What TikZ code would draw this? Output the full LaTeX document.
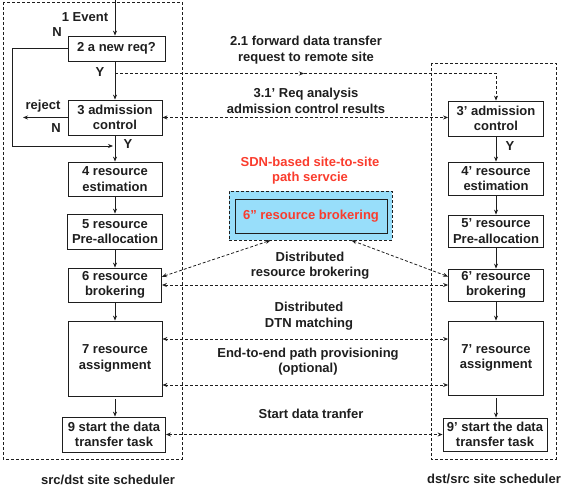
\documentclass[tikz,border=0pt]{standalone}
\usepackage{fontspec}
\setmainfont{Liberation Sans}
\usetikzlibrary{arrows.meta,calc}
\definecolor{sdnred}{RGB}{250,60,45}
\definecolor{sdnblue}{RGB}{152,222,250}
\definecolor{ink}{RGB}{30,30,30}
\begin{document}
\begin{tikzpicture}[x=1pt,y=-1pt,
  font=\fontsize{13}{15.6}\selectfont\bfseries,
  box/.style={draw=ink, line width=0.8pt, align=center, inner sep=0pt, text=ink},
  bsz/.style 2 args={minimum width=#1pt, minimum height=#2pt},
  flow/.style={draw=ink, line width=0.8pt, -{Stealth[length=5pt,width=4pt]}},
  msg/.style={draw=ink, line width=0.8pt, dash pattern=on 3pt off 2pt, -{Stealth[length=5pt,width=4pt]}},
  msgb/.style={draw=ink, line width=0.8pt, dash pattern=on 3pt off 2pt, {Stealth[length=5pt,width=4pt]}-{Stealth[length=5pt,width=4pt]}},
  lbl/.style={align=center, text=ink, inner sep=0pt},
  region/.style={draw=ink, line width=0.8pt, dash pattern=on 3pt off 2pt}]

\useasboundingbox (0,0) rectangle (569,494);

% regions
\draw[region] (3,2) rectangle (182,459);
\draw[region] (431,63) rectangle (556,459);

% left column
\node[box, bsz={97}{25}] (b2) at (116.5,48.5) {2 a new req?};
\node[box, bsz={94}{35}] (b3) at (115,117.5) {3 admission\\control};
\node[box, bsz={94}{34}] (b4) at (115,179) {4 resource\\estimation};
\node[box, bsz={95}{35}] (b5) at (115,231.5) {5 resource\\Pre-allocation};
\node[box, bsz={93}{34}] (b6) at (115,285) {6 resource\\brokering};
\node[box, bsz={94}{75}] (b7) at (115,358.5) {7 resource\\assignment};
\node[box, bsz={103}{35}] (b9) at (114,434.5) {9 start the data\\transfer task};

% right column
\node[box, bsz={95}{35}] (r3) at (496,118.5) {3’ admission\\control};
\node[box, bsz={95}{33}] (r4) at (496,178.5) {4’ resource\\estimation};
\node[box, bsz={95}{32}] (r5) at (496,231) {5’ resource\\Pre-allocation};
\node[box, bsz={95}{32}] (r6) at (496,285) {6’ resource\\brokering};
\node[box, bsz={95}{74}] (r7) at (496,358) {7’ resource\\assignment};
\node[box, bsz={104}{33}] (r9) at (495,434.5) {9’ start the data\\transfer task};

% SDN service
\node[lbl, text=sdnred] (sdnt) at (310,170.5) {SDN-based site-to-site\\path servcie};
\node[draw=ink, line width=0.8pt, dash pattern=on 3pt off 2pt, fill=sdnblue, bsz={163}{49}, inner sep=0pt] (sdno) at (310.5,215.5) {};
\node[box, bsz={152}{34}, text=sdnred] (b6pp) at (311,216) {6” resource brokering};

% labels
\node[lbl] (ev) at (85,17) {1 Event};
\node[lbl] (n1) at (57,32) {N};
\node[lbl] (y1) at (100,72) {Y};
\node[lbl] (rejl) at (43,106) {reject};
\node[lbl] (n2) at (56,128) {N};
\node[lbl] (y2) at (128,144) {Y};
\node[lbl] (y3) at (510,146) {Y};
\node[lbl] (l21) at (306,50) {2.1 forward data transfer\\request to remote site};
\node[lbl] (l31) at (306,101) {3.1’ Req analysis\\admission control results};
\node[lbl] (ldrb) at (310,265.5) {Distributed\\resource brokering};
\node[lbl] (ldtn) at (309,316) {Distributed\\DTN matching};
\node[lbl] (lete) at (308,361.5) {End-to-end path provisioning\\(optional)};
\node[lbl] (lsdt) at (311,414) {Start data tranfer};
\node[lbl] (lsrc) at (108,480) {src/dst site scheduler};
\node[lbl] (ldst) at (494,479) {dst/src site scheduler};

% coordinates
\coordinate (top) at (115,0);
\coordinate (loopE) at (113,146);
\coordinate (loopL) at (12,146);
\coordinate (rej) at (23,120);
\coordinate (fy) at (115,73.5);
\coordinate (fm) at (304,73.5);

% left flow
\draw[flow] (top) -- (top |- b2.north);
\draw[flow] (b3.north |- b2.south) -- (b3.north);
\draw[flow] (b2.west) -| (loopL) -- (loopE);
\draw[flow] (b3.west) -- (b3.west -| rej);
\draw[flow] (b3.south) -- (b4.north);
\draw[flow] (b4.south) -- (b5.north);
\draw[flow] (b5.south) -- (b6.north);
\draw[flow] (b6.south) -- (b7.north);
\draw[flow] ($(b7.south)+(0,3)$) -- (b7.south |- b9.north);

% right flow
\draw[flow] (r3.south) -- (r4.north);
\draw[flow] (r4.south) -- (r5.north);
\draw[flow] (r5.south) -- (r6.north);
\draw[flow] (r6.south) -- (r7.north);
\draw[flow] ($(r7.south)+(0,3)$) -- (r7.south |- r9.north);

% messages
\draw[msg] (fy) -- (fm);
\draw[msg] (fm) -| (r3.north);
\draw[msgb] (b3.east) -- (b3.east -| r3.west);
\draw[msgb] (b6.10) -- ($(sdno.south)+(-40,0)$);
\draw[msgb] (r6.170) -- ($(sdno.south)+(41,0)$);
\draw[msgb] (b6.east) -- (b6.east -| r6.west);
\draw[msgb] ($(b7.east)+(0,-19.5)$) -- ($(b7.east -| r7.west)+(0,-19.5)$);
\draw[msgb] ($(b7.east)+(0,26.5)$) -- ($(b7.east -| r7.west)+(0,26.5)$);
\draw[msgb] (b9.east) -- (b9.east -| r9.west);
\end{tikzpicture}
\end{document}
